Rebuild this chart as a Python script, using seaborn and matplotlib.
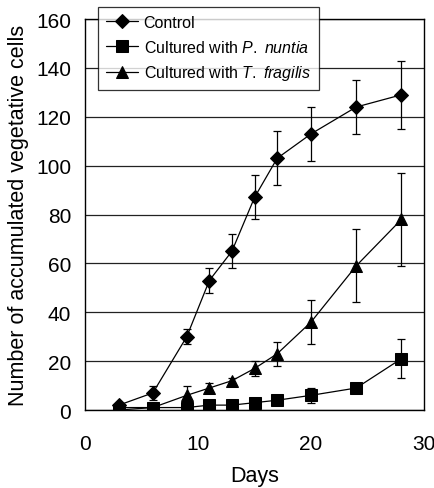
import numpy as np
import pandas as pd
import matplotlib
matplotlib.use("Agg")
import matplotlib.pyplot as plt
import seaborn as sns

days = [3, 6, 9, 11, 13, 15, 17, 20, 24, 28]
control = [2, 7, 30, 53, 65, 87, 103, 113, 124, 129]
control_err = [1, 3, 3, 5, 7, 9, 11, 11, 11, 14]
nuntia = [0, 1, 1, 2, 2, 3, 4, 6, 9, 21]
nuntia_err = [0, 1, 1, 1, 1, 1, 2, 3, 1, 8]
fragilis = [1, 1, 6, 9, 12, 17, 23, 36, 59, 78]
fragilis_err = [0, 1, 4, 2, 1, 3, 5, 9, 15, 19]

labels = ["Control", "Cultured with $\\it{P.\\ nuntia}$", "Cultured with $\\it{T.\\ fragilis}$"]

sns.set_style("white")
plt.rcParams['font.family'] = ['Liberation Sans', 'DejaVu Sans']
plt.rcParams['mathtext.fontset'] = 'custom'
plt.rcParams['mathtext.it'] = 'Liberation Sans:italic'
plt.rcParams['mathtext.rm'] = 'Liberation Sans'
for k in ['text.color', 'axes.labelcolor', 'xtick.color', 'ytick.color']:
    plt.rcParams[k] = 'black'

df = pd.DataFrame({
    "Days": days * 3,
    "value": control + nuntia + fragilis,
    "err": control_err + nuntia_err + fragilis_err,
    "group": [labels[0]] * len(days) + [labels[1]] * len(days) + [labels[2]] * len(days),
})

fig = plt.figure(figsize=(4.34, 4.89), dpi=100)
ax = fig.add_axes([0.196, 0.1595, 0.781, 0.7995])

markers = {labels[0]: "D", labels[1]: "s", labels[2]: "^"}
sizes = {labels[0]: 7.5, labels[1]: 9, labels[2]: 9}

for lab in labels:
    sub = df[df["group"] == lab]
    ax.errorbar(sub["Days"], sub["value"], yerr=sub["err"], fmt="none",
                ecolor="black", elinewidth=0.9, capsize=3, capthick=0.9, zorder=2)
    sns.lineplot(data=sub, x="Days", y="value", ax=ax, color="black", linewidth=0.9,
                 marker=markers[lab], markersize=sizes[lab], markeredgecolor="black",
                 markerfacecolor="black", label=lab, zorder=3)

ax.set_xlim(0, 30)
ax.set_ylim(0, 160)
ax.set_xticks([0, 10, 20, 30])
ax.set_yticks(np.arange(0, 161, 20))
ax.yaxis.grid(True, color="#222222", linewidth=0.9)
ax.xaxis.grid(False)
ax.set_axisbelow(True)
for s in ax.spines.values():
    s.set_color("black")
    s.set_linewidth(1.0)
ax.tick_params(length=0, labelsize=15)
ax.tick_params(axis="x", pad=17)
ax.tick_params(axis="y", pad=10)
ax.set_xlabel("Days", fontsize=15.5, labelpad=9)
ax.set_ylabel("Number of accumulated vegetative cells", fontsize=15.5, labelpad=5)

leg = ax.legend(loc="upper left", bbox_to_anchor=(0.226, 0.984), bbox_transform=fig.transFigure,
                frameon=True, fancybox=False, edgecolor="black", fontsize=11.5,
                handlelength=2.0, handletextpad=0.35, labelspacing=0.55, borderpad=0.5,
                borderaxespad=0)
leg.get_frame().set_linewidth(0.9)
leg.set_zorder(5)

fig.savefig("out.png", dpi=100)
